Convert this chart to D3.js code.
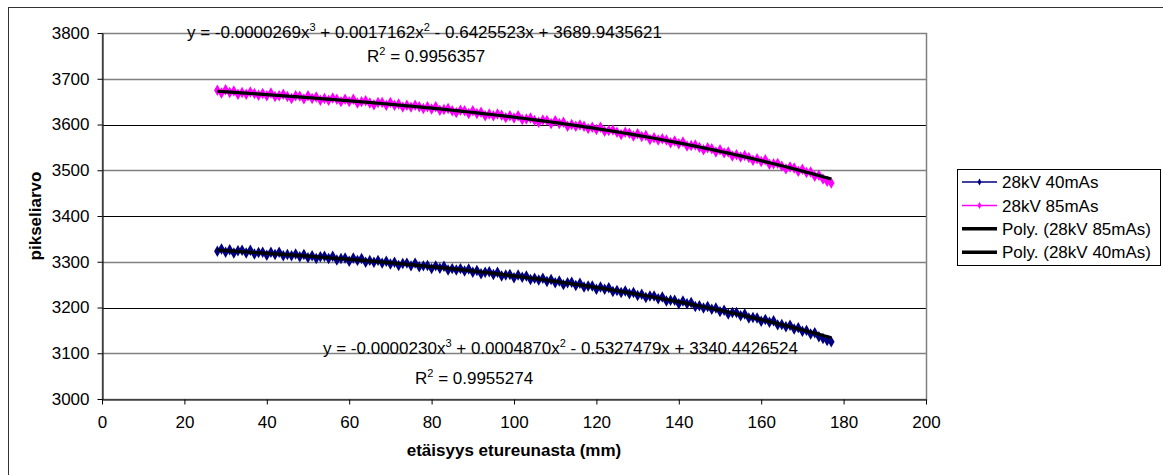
<!DOCTYPE html>
<html>
<head>
<meta charset="utf-8">
<script src="https://cdn.jsdelivr.net/npm/d3@7"></script>
<style>
  body { margin: 0; background: #fff; }
  svg { display: block; font-family: "Liberation Sans", Arial, sans-serif; }
  .axis text { font-size: 17px; fill: #000; }
  .axis path, .axis line { stroke: #000; }
</style>
</head>
<body>
<div id="root"></div>
<script>
// Distance samples (mm) along the measured profile.
const distances = d3.range(28, 178);

// Pixel values, one per mm from 28 to 177.
const values40 = [
  3323, 3328, 3321, 3326, 3319, 3324, 3325, 3319, 3325, 3317,
  3320, 3321, 3314, 3321, 3316, 3321, 3313, 3316, 3313, 3317,
  3311, 3316, 3309, 3313, 3307, 3311, 3312, 3307, 3312, 3304,
  3307, 3308, 3301, 3308, 3303, 3307, 3299, 3303, 3299, 3303,
  3297, 3301, 3295, 3299, 3292, 3296, 3297, 3291, 3297, 3289,
  3291, 3292, 3285, 3291, 3286, 3290, 3282, 3285, 3282, 3285,
  3280, 3284, 3277, 3281, 3274, 3277, 3278, 3272, 3277, 3269,
  3271, 3272, 3265, 3271, 3266, 3269, 3261, 3264, 3260, 3264,
  3257, 3261, 3254, 3258, 3250, 3254, 3255, 3248, 3253, 3245,
  3247, 3247, 3240, 3245, 3240, 3243, 3235, 3237, 3233, 3236,
  3230, 3233, 3226, 3229, 3222, 3225, 3225, 3219, 3223, 3214,
  3216, 3216, 3208, 3214, 3208, 3211, 3202, 3204, 3199, 3202,
  3196, 3199, 3191, 3194, 3186, 3189, 3189, 3182, 3186, 3177,
  3178, 3177, 3170, 3174, 3168, 3171, 3162, 3163, 3158, 3161,
  3153, 3156, 3148, 3150, 3142, 3145, 3136, 3132, 3128, 3125
];
const values85 = [
  3675, 3669, 3676, 3670, 3673, 3666, 3670, 3666, 3671, 3668,
  3664, 3668, 3663, 3669, 3661, 3663, 3666, 3661, 3657, 3663,
  3662, 3656, 3663, 3657, 3660, 3653, 3657, 3653, 3658, 3655,
  3650, 3655, 3650, 3655, 3647, 3650, 3652, 3647, 3643, 3648,
  3648, 3642, 3648, 3642, 3645, 3638, 3642, 3638, 3642, 3639,
  3635, 3639, 3634, 3639, 3631, 3633, 3635, 3630, 3626, 3631,
  3630, 3624, 3630, 3624, 3627, 3619, 3623, 3619, 3623, 3620,
  3615, 3619, 3614, 3619, 3611, 3612, 3614, 3609, 3605, 3610,
  3609, 3602, 3608, 3602, 3605, 3596, 3600, 3596, 3599, 3596,
  3591, 3594, 3589, 3594, 3585, 3587, 3588, 3583, 3578, 3583,
  3581, 3575, 3580, 3574, 3576, 3567, 3571, 3566, 3569, 3566,
  3560, 3564, 3558, 3562, 3553, 3554, 3555, 3550, 3545, 3549,
  3547, 3540, 3545, 3538, 3540, 3531, 3534, 3529, 3532, 3528,
  3522, 3525, 3519, 3523, 3513, 3514, 3515, 3509, 3503, 3507,
  3505, 3498, 3502, 3495, 3496, 3487, 3489, 3481, 3476, 3472
];

// Cubic trendline coefficients as printed on the chart (x^3, x^2, x, const).
const coef85 = [-0.0000269, 0.0017162, -0.6425523, 3689.9435621];
const coef40 = [-0.0000230, 0.0004870, -0.5327479, 3340.4426524];

const xTicks = [0, 20, 40, 60, 80, 100, 120, 140, 160, 180, 200];
const yTicks = [3000, 3100, 3200, 3300, 3400, 3500, 3600, 3700, 3800];
const legendLabels = ['28kV 40mAs', '28kV 85mAs', 'Poly. (28kV 85mAs)', 'Poly. (28kV 40mAs)'];

const W = 1163, H = 475;
const plot = { left: 102, right: 926, top: 33, bottom: 399 };

const x = d3.scaleLinear().domain([0, 200]).range([plot.left, plot.right]);
const y = d3.scaleLinear().domain([3000, 3800]).range([plot.bottom, plot.top]);

const svg = d3.select('#root').append('svg')
  .attr('width', W)
  .attr('height', H);

// Outer chart frame (runs off the right and bottom of the picture).
svg.append('rect')
  .attr('x', 8.5).attr('y', 7.5)
  .attr('width', 1300).attr('height', 600)
  .attr('fill', 'none')
  .attr('stroke', '#333');

// Gridlines.
svg.append('g')
  .selectAll('line')
  .data(yTicks.filter(d => d > 3000 && d < 3800))
  .enter()
  .append('line')
  .attr('x1', plot.left).attr('x2', plot.right)
  .attr('y1', d => Math.round(y(d)) + 0.5)
  .attr('y2', d => Math.round(y(d)) + 0.5)
  .attr('stroke', d => (d / 100) % 2 === 0 ? '#000' : '#808080')
  .attr('stroke-width', d => (d / 100) % 2 === 0 ? 1 : 1.5);

// Plot area border (top and right grey).
svg.append('rect')
  .attr('x', plot.left + 0.5).attr('y', plot.top + 0.5)
  .attr('width', plot.right - plot.left)
  .attr('height', plot.bottom - plot.top)
  .attr('fill', 'none')
  .attr('stroke', '#808080')
  .attr('stroke-width', 1.5);

// Axes.
svg.append('g')
  .attr('class', 'axis')
  .attr('transform', `translate(0, ${plot.bottom + 0.5})`)
  .call(d3.axisBottom(x).tickValues(xTicks).tickSize(5).tickSizeOuter(0).tickPadding(11).tickFormat(d3.format('d')));

svg.append('g')
  .attr('class', 'axis')
  .attr('transform', `translate(${plot.left + 0.5}, 0)`)
  .call(d3.axisLeft(y).tickValues(yTicks).tickSize(5).tickSizeOuter(0).tickPadding(8).tickFormat(d3.format('d')));

svg.selectAll('.axis text').attr('font-family', '"Liberation Sans", Arial, sans-serif');

// Axis titles.
svg.append('text')
  .attr('x', (plot.left + plot.right) / 2)
  .attr('y', 456)
  .attr('text-anchor', 'middle')
  .style('font-size', '17px')
  .style('font-weight', 'bold')
  .text('etäisyys etureunasta (mm)');

svg.append('text')
  .attr('transform', `translate(41, ${(plot.top + plot.bottom) / 2}) rotate(-90)`)
  .attr('text-anchor', 'middle')
  .style('font-size', '17px')
  .style('font-weight', 'bold')
  .text('pikseliarvo');

// Data series.
const series = [
  { values: values40, color: '#000080' },
  { values: values85, color: '#FF00FF' }
];
const line = d3.line()
  .x((d, i) => x(distances[i]))
  .y(d => y(d));
const diamond = d3.symbol(d3.symbolDiamond).size(38);

series.forEach(function (s) {
  svg.append('path')
    .datum(s.values)
    .attr('d', line)
    .attr('fill', 'none')
    .attr('stroke', s.color)
    .attr('stroke-width', 1.5);

  svg.append('g')
    .selectAll('path')
    .data(s.values)
    .enter()
    .append('path')
    .attr('d', diamond)
    .attr('transform', (d, i) => `translate(${x(distances[i])}, ${y(d)})`)
    .attr('fill', s.color);
});

// Polynomial trendlines.
function poly(c, t) {
  return c[0] * t * t * t + c[1] * t * t + c[2] * t + c[3];
}
[coef85, coef40].forEach(function (c) {
  svg.append('path')
    .datum(distances)
    .attr('d', d3.line().x(d => x(d)).y(d => y(poly(c, d))).curve(d3.curveBasis))
    .attr('fill', 'none')
    .attr('stroke', '#000')
    .attr('stroke-width', 3.2);
});

// Trendline equations; parts given as one-item arrays are superscripts.
function equation(xPos, yPos, parts) {
  const t = svg.append('text')
    .attr('x', xPos)
    .attr('y', yPos)
    .style('font-size', '17px');
  let raised = false;
  parts.forEach(function (p) {
    if (Array.isArray(p)) {
      t.append('tspan').attr('dy', -7).style('font-size', '11px').text(p[0]);
      raised = true;
    } else {
      t.append('tspan').attr('dy', raised ? 7 : 0).text(p);
      raised = false;
    }
  });
}
equation(187, 38, ['y = -0.0000269x', ['3'], ' + 0.0017162x', ['2'], ' - 0.6425523x + 3689.9435621']);
equation(367, 62, ['R', ['2'], ' = 0.9956357']);
equation(323, 354, ['y = -0.0000230x', ['3'], ' + 0.0004870x', ['2'], ' - 0.5327479x + 3340.4426524']);
equation(415, 384, ['R', ['2'], ' = 0.9955274']);

// Legend.
const legend = svg.append('g').attr('id', 'legend');
legend.append('rect')
  .attr('x', 957.5).attr('y', 169.5)
  .attr('width', 203).attr('height', 96)
  .attr('fill', '#fff')
  .attr('stroke', '#000');

const legendStyles = [
  { color: '#000080', width: 1.5, marker: true },
  { color: '#FF00FF', width: 1.5, marker: true },
  { color: '#000', width: 3.5, marker: false },
  { color: '#000', width: 3.5, marker: false }
];
const rows = legend.selectAll('.legend-label')
  .data(legendLabels)
  .enter()
  .append('g')
  .attr('class', 'legend-label')
  .attr('transform', (d, i) => `translate(962, ${182 + i * 23.4})`);

rows.append('line')
  .attr('x1', 0).attr('x2', 35)
  .attr('stroke', (d, i) => legendStyles[i].color)
  .attr('stroke-width', (d, i) => legendStyles[i].width);

rows.filter((d, i) => legendStyles[i].marker)
  .append('path')
  .attr('d', d3.symbol(d3.symbolDiamond).size(14))
  .attr('transform', 'translate(17.5, 0)')
  .attr('fill', d => legendStyles[legendLabels.indexOf(d)].color);

rows.append('text')
  .attr('x', 40)
  .attr('dy', '0.36em')
  .style('font-size', '17px')
  .text(d => d);
</script>
</body>
</html>
